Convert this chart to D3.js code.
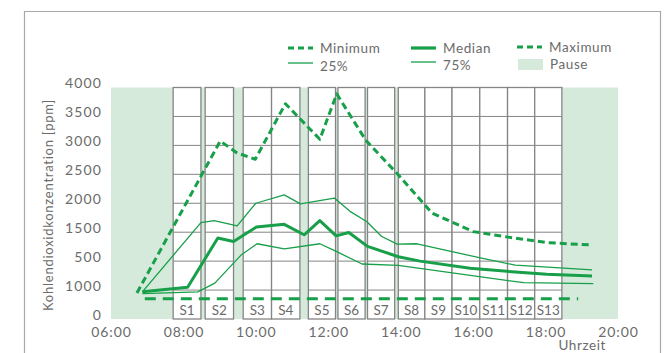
<!DOCTYPE html>
<html>
<head>
<meta charset="utf-8">
<script src="https://cdn.jsdelivr.net/npm/d3@7"></script>
<style>
  html, body { margin: 0; padding: 0; background: #fff; }
  svg { display: block; }
  text { font-family: Lato, "Open Sans", sans-serif; fill: #6b6b6b; }
</style>
</head>
<body>
<svg id="chart" width="668" height="353"></svg>
<script>
// Lessons (Schulstunden) with start and end times
const lessonNames = ["S1","S2","S3","S4","S5","S6","S7","S8","S9","S10","S11","S12","S13"];
const lessonStart = ["07:43","08:36","09:39","10:26","11:27","12:16","13:05","13:56","14:40","15:25","16:11","16:57","17:42"];
const lessonEnd   = ["08:29","09:23","10:26","11:13","12:12","13:01","13:50","14:40","15:25","16:11","16:57","17:42","18:27"];

// CO2 concentration series [ppm] over the day
const minTimes = ["06:56","18:54"];
const minValues = [350, 350];

const p25Times  = ["06:52","08:24","08:52","09:35","10:02","10:47","11:46","12:14","12:56","13:56","17:24","19:19"];
const p25Values = [440, 470, 620, 1100, 1300, 1210, 1300, 1163, 950, 925, 627, 610];

const medTimes  = ["06:52","08:07","08:57","09:23","10:01","10:47","11:20","11:46","12:13","12:34","13:05","13:56","14:32","15:55","17:04","18:02","19:17"];
const medValues = [470, 550, 1400, 1340, 1590, 1636, 1455, 1700, 1437, 1495, 1255, 1076, 1000, 876, 817, 772, 745];

const p75Times  = ["06:52","08:29","08:51","09:29","10:00","10:47","11:14","12:10","12:36","13:04","13:28","13:54","14:27","16:10","17:10","19:17"];
const p75Values = [470, 1665, 1700, 1610, 2000, 2145, 1990, 2090, 1860, 1680, 1430, 1295, 1300, 1060, 930, 850];

const maxTimes  = ["06:43","09:01","09:29","09:59","10:49","11:46","12:14","13:02","13:57","14:52","16:00","16:58","18:02","19:14"];
const maxValues = [450, 3075, 2870, 2760, 3720, 3105, 3890, 3090, 2480, 1830, 1510, 1415, 1320, 1280];

// Axis ticks
const xTickHours  = [6, 8, 10, 12, 14, 16, 18, 20];
const xTickLabels = ["06:00","08:00","10:00","12:00","14:00","16:00","18:00","20:00"];
const yTickValues = [0, 500, 1000, 1500, 2000, 2500, 3000, 3500, 4000];
const yTickLabels = ["0","1000","500","1500","2000","2500","3000","3500","4000"];

const GREEN = "#179f49";
const PAUSE = "#d6eadc";
const GRID = "#858585";

const toHour = s => { const [h, m] = s.split(":").map(Number); return h + m / 60; };

const svg = d3.select("#chart");
const x = d3.scaleLinear().domain([6, 20]).range([111, 618]);
const y = d3.scaleLinear().domain([0, 4000]).range([319, 87.5]);

// outer frame
svg.append("path")
  .attr("d", "M24.5,353 V11.5 H660.5 V353")
  .attr("fill", "none").attr("stroke", "#a8a8a8").attr("stroke-width", 1.2);

// pause background over the whole day
svg.append("rect")
  .attr("x", x(6)).attr("y", y(4000))
  .attr("width", x(20) - x(6)).attr("height", y(0) - y(4000))
  .attr("fill", PAUSE);

// lesson boxes with grid
const lessons = lessonNames.map((n, i) => ({ name: n, s: toHour(lessonStart[i]), e: toHour(lessonEnd[i]) }));
const lg = svg.append("g");
lessons.forEach(l => {
  const g = lg.append("g");
  g.append("rect")
    .attr("x", x(l.s)).attr("y", y(4000))
    .attr("width", x(l.e) - x(l.s)).attr("height", y(0) - y(4000))
    .attr("fill", "#fff").attr("stroke", GRID).attr("stroke-width", 1.3);
  g.selectAll("line").data(yTickValues.slice(1, -1)).join("line")
    .attr("x1", x(l.s)).attr("x2", x(l.e))
    .attr("y1", d => y(d)).attr("y2", d => y(d))
    .attr("stroke", GRID).attr("stroke-width", 1);
  g.append("text")
    .attr("x", (x(l.s) + x(l.e)) / 2).attr("y", y(0) - 4)
    .attr("text-anchor", "middle")
    .attr("font-size", 13.5)
    .text(l.name);
});

// series
const line = d3.line().x(d => x(d[0])).y(d => y(d[1]));
const pts = (ts, vs) => ts.map((t, i) => [toHour(t), vs[i]]);

const series = [
  { data: pts(p25Times, p25Values), w: 1.3, dash: null },
  { data: pts(p75Times, p75Values), w: 1.3, dash: null },
  { data: pts(medTimes, medValues), w: 3, dash: null },
  { data: pts(maxTimes, maxValues), w: 3, dash: "7,4" },
  { data: pts(minTimes, minValues), w: 3.2, dash: "11,7" }
];
series.forEach(s => {
  svg.append("path")
    .attr("d", line(s.data))
    .attr("fill", "none")
    .attr("stroke", GREEN)
    .attr("stroke-width", s.w)
    .attr("stroke-linejoin", "round")
    .attr("stroke-dasharray", s.dash);
});

// axes
const xAxis = svg.append("g")
  .attr("transform", `translate(0,${y(0)})`)
  .call(d3.axisBottom(x).tickValues(xTickHours).tickSize(0).tickPadding(8)
    .tickFormat((d, i) => xTickLabels[i]));
xAxis.select(".domain").remove();
xAxis.selectAll("text")
  .attr("font-size", 14).attr("letter-spacing", 0.9)
  .style("font-family", "Lato, sans-serif").attr("fill", "#6b6b6b");

const yAxis = svg.append("g")
  .attr("transform", `translate(${x(6)},0)`)
  .call(d3.axisLeft(y).tickValues(yTickValues).tickSize(0).tickPadding(9)
    .tickFormat((d, i) => yTickLabels[i]));
yAxis.select(".domain").remove();
yAxis.selectAll("text")
  .attr("font-size", 14).attr("letter-spacing", 1.1).attr("dy", "0em")
  .style("font-family", "Lato, sans-serif").attr("fill", "#6b6b6b");

// axis titles
svg.append("text")
  .attr("transform", "translate(53,205) rotate(-90)")
  .attr("text-anchor", "middle")
  .attr("font-size", 13).attr("letter-spacing", 0.75)
  .text("Kohlendioxidkonzentration [ppm]");
svg.append("text")
  .attr("x", 606).attr("y", 350)
  .attr("text-anchor", "end")
  .attr("font-size", 13.5).attr("letter-spacing", 0.6)
  .text("Uhrzeit");

// legend
const legend = svg.append("g");
const legendItems = [
  { label: "Minimum", x: 288, y: 48, w: 3, dash: "6,4" },
  { label: "25%",     x: 288, y: 63, w: 1.3, dash: null },
  { label: "Median",  x: 411, y: 48, w: 3.2, dash: null },
  { label: "75%",     x: 411, y: 62, w: 1.3, dash: null },
  { label: "Maximum", x: 517, y: 47, w: 3, dash: "6,4" }
];
legendItems.forEach(it => {
  legend.append("line")
    .attr("x1", it.x).attr("x2", it.x + 25)
    .attr("y1", it.y).attr("y2", it.y)
    .attr("stroke", GREEN).attr("stroke-width", it.w)
    .attr("stroke-dasharray", it.dash);
  legend.append("text")
    .attr("x", it.x + 32).attr("y", it.y + (it.label.includes("%") ? 3 : 0))
    .attr("dy", "0.35em")
    .attr("font-size", 13.5).attr("letter-spacing", 0.6)
    .text(it.label);
});
legend.append("rect")
  .attr("x", 518).attr("y", 59).attr("width", 25).attr("height", 11)
  .attr("fill", PAUSE);
legend.append("text")
  .attr("x", 550).attr("y", 64).attr("dy", "0.35em")
  .attr("font-size", 13.5).attr("letter-spacing", 0.6)
  .text("Pause");
</script>
</body>
</html>
